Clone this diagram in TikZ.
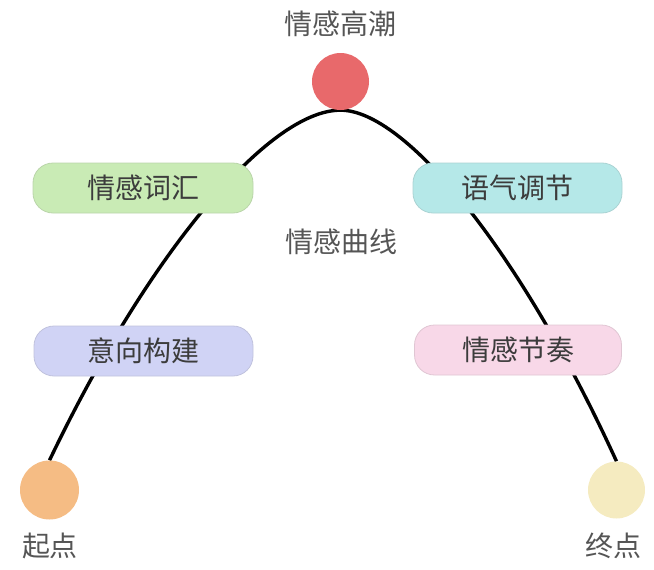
\documentclass[tikz,border=0pt]{standalone}
\usepackage{fontspec}
\setmainfont{Noto Sans CJK SC}
\usepackage{xcolor}
\usepackage{tikz}
\usetikzlibrary{backgrounds}

\definecolor{peakred}{HTML}{E8696B}
\definecolor{startorange}{HTML}{F5BC84}
\definecolor{endcream}{HTML}{F5EBC0}
\definecolor{vocabgreen}{HTML}{C9EBB5}
\definecolor{tonecyan}{HTML}{B5E8E8}
\definecolor{imagelilac}{HTML}{D0D3F5}
\definecolor{rhythmpink}{HTML}{F8D8E8}
\definecolor{lbltext}{HTML}{555555}
\definecolor{boxtext}{HTML}{3C3C3C}

\begin{document}
\begin{tikzpicture}[x=1pt, y=-1pt,
    dot/.style={circle, inner sep=0pt},
    box/.style={rounded corners=20pt, minimum height=50pt, inner sep=0pt,
                line width=0.8pt, font=\fontsize{28}{30}\selectfont, text=boxtext},
    lbl/.style={font=\fontsize{28}{30}\selectfont, text=lbltext}]
          \useasboundingbox (0,0) rectangle (654,570);

          % points on the curve
          \node[dot, fill=peakred, minimum size=57pt] (peak) at (340.5,81.5) {};
          \node[dot, fill=startorange, minimum size=59pt] (start) at (49.5,490) {};
          \node[dot, fill=endcream, minimum size=57pt] (goal) at (616.5,490) {};

          \node[lbl] (peaktxt) at (340.5,24) {情感高潮};
          \node[lbl] (starttxt) at (50,546) {起点};
          \node[lbl] (goaltxt) at (613,546) {终点};
          \node[lbl] (curvetxt) at (341,242) {情感曲线};

          % stages
          \node[box, fill=vocabgreen, draw=vocabgreen!80!gray, minimum width=220pt] (vocab) at (143,188) {情感词汇};
          \node[box, fill=tonecyan, draw=tonecyan!80!gray, minimum width=209pt] (tone) at (517.5,188) {语气调节};
          \node[box, fill=imagelilac, draw=imagelilac!80!gray, minimum width=219pt] (imagery) at (143.5,351) {意向构建};
          \node[box, fill=rhythmpink, draw=rhythmpink!80!gray, minimum width=207pt] (rhythm) at (518,350) {情感节奏};

          \begin{scope}[on background layer]
            \draw[line width=3.4pt] (start.north) .. controls (150,250) and (270,110) .. (peak.south)
                                  .. controls (405,110) and (520,250) .. (goal.north);
          \end{scope}
        \end{tikzpicture}
\end{document}
